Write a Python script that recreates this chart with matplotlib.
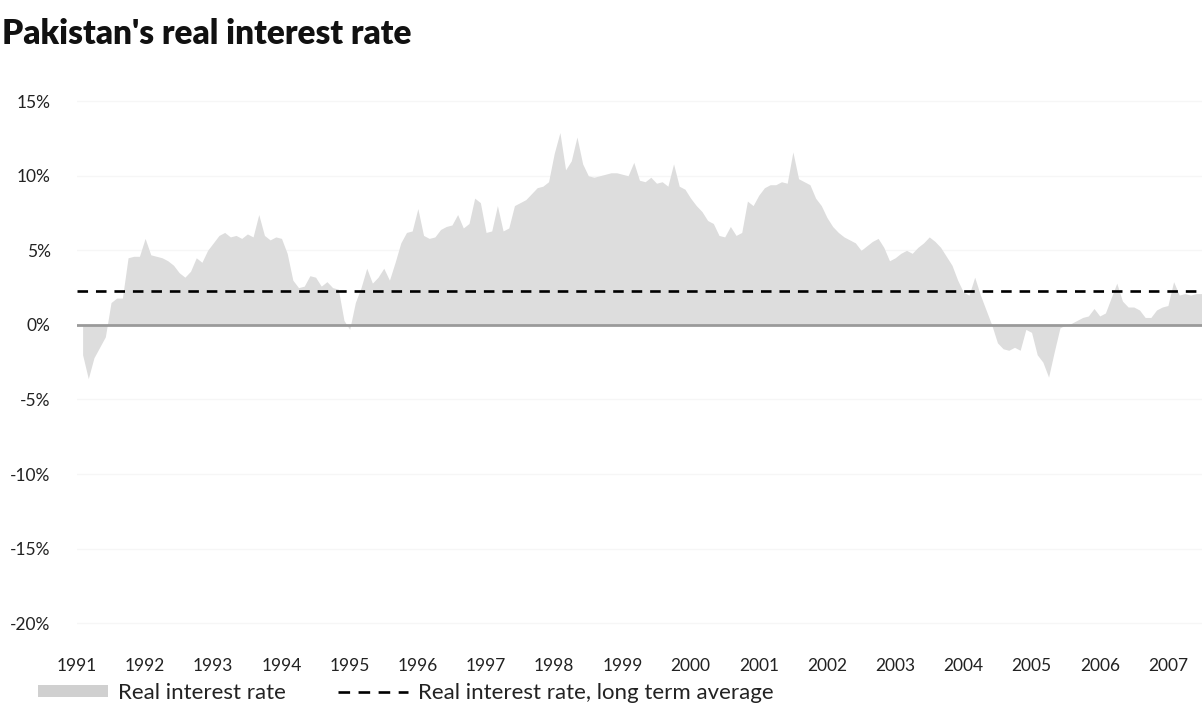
import numpy as np
import pandas as pd
import matplotlib
matplotlib.use("Agg")
import matplotlib.pyplot as plt
from matplotlib.patches import Patch
from matplotlib.lines import Line2D

# monthly real interest rate (%), starting Feb 1991
rate_1991 = [-2.0, -3.6, -2.2, -1.5, -0.8, 1.5, 1.8, 1.8, 4.5, 4.6, 4.6]
rate_1992 = [5.8, 4.7, 4.6, 4.5, 4.3, 4.0, 3.5, 3.2, 3.6, 4.5, 4.2, 5.0]
rate_1993 = [5.5, 6.0, 6.2, 5.9, 6.0, 5.8, 6.1, 5.9, 7.4, 6.0, 5.7, 5.9]
rate_1994 = [5.8, 4.8, 3.0, 2.5, 2.6, 3.3, 3.2, 2.6, 2.9, 2.5, 2.4, 0.3]
rate_1995 = [-0.3, 1.5, 2.5, 3.8, 2.8, 3.2, 3.8, 3.0, 4.2, 5.5, 6.2, 6.3]
rate_1996 = [7.8, 6.0, 5.8, 5.9, 6.4, 6.6, 6.7, 7.4, 6.5, 6.8, 8.5, 8.2]
rate_1997 = [6.2, 6.3, 8.0, 6.3, 6.5, 8.0, 8.2, 8.4, 8.8, 9.2, 9.3, 9.6]
rate_1998 = [11.5, 12.9, 10.4, 11.0, 12.6, 10.8, 10.0, 9.9, 10.0, 10.1, 10.2, 10.2]
rate_1999 = [10.1, 10.0, 10.9, 9.7, 9.6, 9.9, 9.5, 9.6, 9.3, 10.8, 9.3, 9.1]
rate_2000 = [8.5, 8.0, 7.6, 7.0, 6.8, 6.0, 5.9, 6.6, 6.0, 6.2, 8.3, 8.0]
rate_2001 = [8.7, 9.2, 9.4, 9.4, 9.6, 9.5, 11.6, 9.8, 9.6, 9.4, 8.5, 8.0]
rate_2002 = [7.2, 6.6, 6.2, 5.9, 5.7, 5.5, 5.0, 5.3, 5.6, 5.8, 5.2, 4.3]
rate_2003 = [4.5, 4.8, 5.0, 4.8, 5.2, 5.5, 5.9, 5.6, 5.2, 4.6, 4.0, 3.0]
rate_2004 = [2.2, 2.0, 3.2, 2.0, 1.0, 0.0, -1.2, -1.6, -1.7, -1.5, -1.7, -0.3]
rate_2005 = [-0.5, -2.0, -2.5, -3.5, -1.8, -0.2, 0.0, 0.1, 0.3, 0.5, 0.6, 1.1]
rate_2006 = [0.6, 0.8, 1.8, 2.8, 1.6, 1.2, 1.2, 1.0, 0.5, 0.5, 1.0, 1.2]
rate_2007 = [1.3, 2.9, 2.0, 2.1, 2.0, 2.1, 2.1]

long_term_avg = 2.3
years = list(range(1991, 2008))
y_ticks = [15, 10, 5, 0, -5, -10, -15, -20]

rates = (rate_1991 + rate_1992 + rate_1993 + rate_1994 + rate_1995 + rate_1996
         + rate_1997 + rate_1998 + rate_1999 + rate_2000 + rate_2001 + rate_2002
         + rate_2003 + rate_2004 + rate_2005 + rate_2006 + rate_2007)
dates = pd.date_range("1991-02-01", periods=len(rates), freq="MS")
t = dates.year + (dates.month - 1) / 12.0

fill_col = "#dddddd"
txt_col = "#222222"
font = ["Lato", "DejaVu Sans"]

fig = plt.figure(figsize=(12.02, 7.13), dpi=100)
ax = fig.add_axes([0.064, 0.105, 0.936, 0.774])

ax.fill_between(t, 0, rates, color=fill_col, linewidth=0)
ax.axhline(0, color="#9a9a9a", linewidth=2.0)
ax.axhline(long_term_avg, color="black", linewidth=1.9, dashes=(4, 3))
for v in y_ticks:
    if v != 0:
        ax.axhline(v, color="#f6f6f6", linewidth=1, zorder=0)

ax.set_xlim(1991, 2007.5)
ax.set_ylim(-21, 16)
ax.set_xticks(years)
ax.set_xticklabels([str(y) for y in years])
ax.set_yticks(y_ticks)
ax.set_yticklabels([f"{v}%" for v in y_ticks])
ax.tick_params(length=0, labelsize=12.5, colors=txt_col)
ax.tick_params(axis="y", pad=19)
ax.tick_params(axis="x", pad=14)
for lab in ax.get_xticklabels() + ax.get_yticklabels():
    lab.set_family(font)
for s in ax.spines.values():
    s.set_visible(False)

fig.text(0.002, 0.953, "Pakistan's real interest rate", fontsize=24,
         fontweight="heavy", color="#111111", family=font, va="center")

handles = [Patch(facecolor="#d0d0d0", edgecolor="none"),
           Line2D([], [], color="black", linewidth=1.9, dashes=(4.4, 3.2))]
fig.legend(handles, ["Real interest rate", "Real interest rate, long term average"],
           loc="center left", bbox_to_anchor=(0.0316, 0.028), ncol=2, frameon=False,
           prop={"family": font, "size": 16}, handlelength=3.15, handleheight=0.4,
           handletextpad=0.45, columnspacing=2.35, labelcolor=txt_col,
           borderpad=0, borderaxespad=0)

fig.savefig("out.png", dpi=100)
